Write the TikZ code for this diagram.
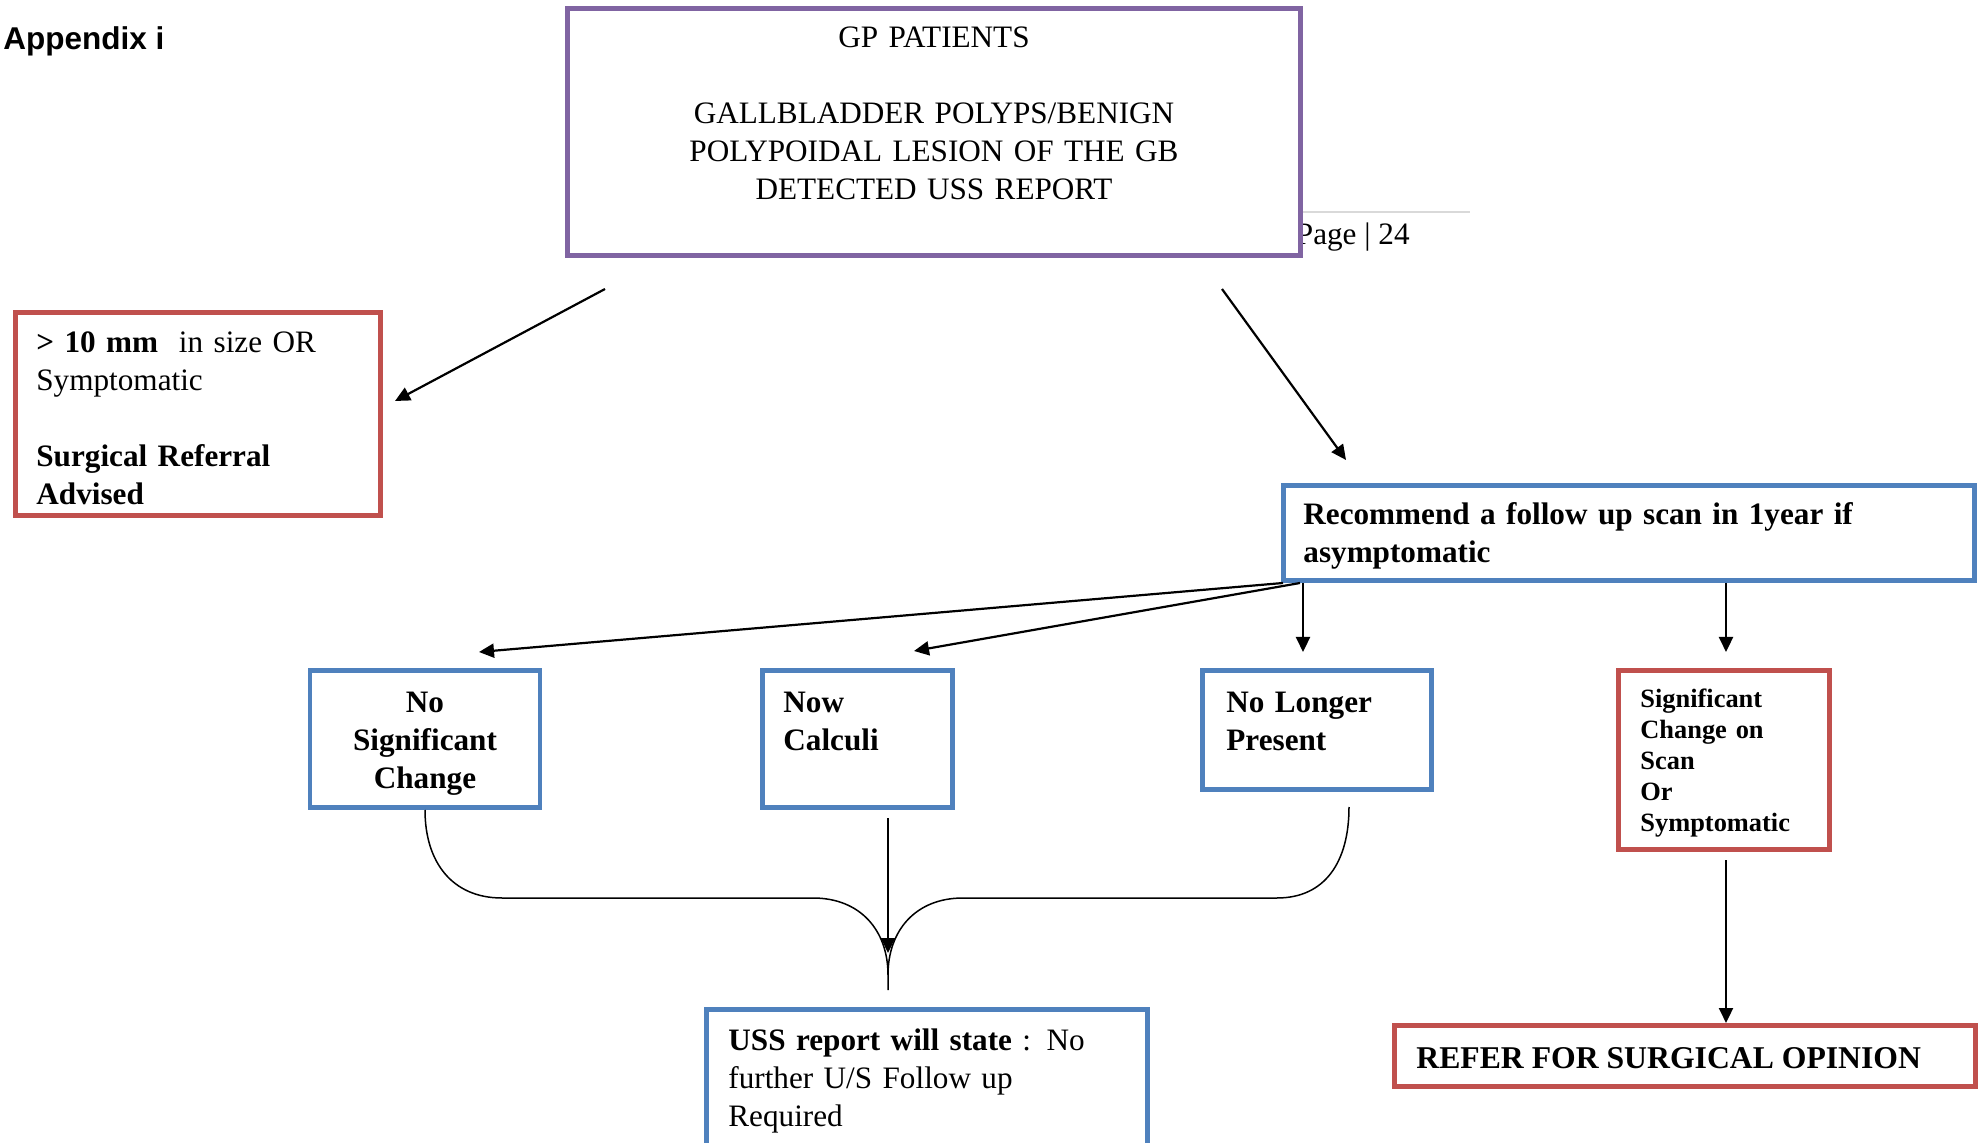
\documentclass[tikz,border=0pt]{standalone}
\usepackage{fontspec}
\setmainfont{Liberation Serif}
\newfontfamily\arialfont{Liberation Sans}
\usetikzlibrary{arrows.meta}
\definecolor{gpPurple}{HTML}{8064A2}
\definecolor{gpRed}{HTML}{C0504D}
\definecolor{gpBlue}{HTML}{4F81BD}
\definecolor{gpGray}{HTML}{D9D9D9}
\begin{document}
\begin{tikzpicture}[x=0.5pt,y=-0.5pt,
  boxbase/.style={rectangle, inner sep=0pt, line width=2.4pt, fill=white},
  purplebox/.style={boxbase, draw=gpPurple},
  redbox/.style={boxbase, draw=gpRed},
  bluebox/.style={boxbase, draw=gpBlue},
  txt/.style={inner sep=0pt, font=\fontsize{15.6}{19}\selectfont, align=left},
  btxt/.style={txt, font=\fontsize{15.6}{19}\selectfont\bfseries},
  stxt/.style={txt, font=\fontsize{13.2}{15.4}\selectfont\bfseries},
  arr/.style={line width=1.1pt, -{Triangle[length=7.5pt,width=7pt]}},
  bracestyle/.style={line width=0.75pt},
]
\useasboundingbox (0,0) rectangle (1986,1143);
\clip (0,0) rectangle (1986,1143);

% page footer remnant
\coordinate (pl1) at (1250,212);
\coordinate (pl2) at (1470,212);
\draw[gpGray, line width=1pt] (pl1) -- (pl2);
\node[txt, anchor=base east] (page) at (1410,245) {Page | 24};

\node[inner sep=0pt, anchor=base west, font=\arialfont\bfseries\fontsize{15.75}{19}\selectfont] (app) at (3,50) {Appendix i};

% boxes
\node[purplebox, minimum width=366.5pt, minimum height=123.5pt] (gp) at (934,132) {};
\node[txt, align=center, text width=260pt, anchor=base] (gpt) at (934,48)
  {GP PATIENTS\\[19pt]GALLBLADDER POLYPS/BENIGN\\POLYPOIDAL LESION OF THE GB\\DETECTED USS REPORT};

\node[redbox, minimum width=182.5pt, minimum height=101.5pt] (big) at (198,414) {};
\node[txt, text width=175pt, anchor=base west] (bigt) at (36,353)
  {\textbf{> 10 mm}\ \ in size OR\\Symptomatic\\[19pt]\textbf{Surgical Referral}\\\textbf{Advised}};

\node[bluebox, minimum width=345.5pt, minimum height=47.5pt] (rec) at (1629,533) {};
\node[btxt, text width=335pt, anchor=base west] (rect) at (1303,525)
  {Recommend a follow up scan in 1year if\\asymptomatic};

\node[bluebox, minimum width=115pt, minimum height=68.5pt] (nsc) at (425,739) {};
\node[btxt, align=center, text width=110pt, anchor=base] (nsct) at (425,712)
  {No\\Significant\\Change};

\node[bluebox, minimum width=95pt, minimum height=68.5pt] (nc) at (857.5,739) {};
\node[btxt, text width=85pt, anchor=base west] (nct) at (783,712) {Now\\Calculi};

\node[bluebox, minimum width=114.5pt, minimum height=59.5pt] (nlp) at (1317,730) {};
\node[btxt, text width=105pt, anchor=base west] (nlpt) at (1226,712) {No Longer\\Present};

\node[redbox, minimum width=105.5pt, minimum height=89.5pt] (sig) at (1724,760) {};
\node[stxt, text width=95pt, anchor=base west] (sigt) at (1640,708)
  {Significant\\Change on\\Scan\\Or\\Symptomatic};

\node[redbox, minimum width=290.5pt, minimum height=30.5pt] (refer) at (1685,1056) {};
\node[btxt, anchor=base west, font=\fontsize{15.85}{19}\selectfont\bfseries] (refert) at (1416,1068) {REFER FOR SURGICAL OPINION};

\node[bluebox, minimum width=220.5pt, minimum height=120.5pt] (uss) at (927,1130) {};
\node[txt, text width=210pt, anchor=base west] (usst) at (728,1050)
  {\textbf{USS report will state} : No\\further U/S Follow up\\Required};

% connectors
\coordinate (a1s) at (605,289);  \coordinate (a1e) at (395,401);
\coordinate (a2s) at (1222,289); \coordinate (a2e) at (1346,460);
\coordinate (a3s) at (1283,583); \coordinate (a3e) at (479,652);
\coordinate (a4s) at (1300,583); \coordinate (a4e) at (914,651);
\coordinate (a5s) at (1303,583); \coordinate (a5e) at (1303,652);
\coordinate (a6s) at (1726,583); \coordinate (a6e) at (1726,652);
\coordinate (a7s) at (1726,860); \coordinate (a7e) at (1726,1023);
\coordinate (a8s) at (888,818);  \coordinate (a8e) at (888,953);
\draw[arr] (a1s) -- (a1e);
\draw[arr] (a2s) -- (a2e);
\draw[arr] (a3s) -- (a3e);
\draw[arr] (a4s) -- (a4e);
\draw[arr] (a5s) -- (a5e);
\draw[arr] (a6s) -- (a6e);
\draw[arr] (a7s) -- (a7e);
\draw[arr] (a8s) -- (a8e);

% brace joining the three outcomes
\coordinate (bl) at (425,810);
\coordinate (br) at (1349,807);
\coordinate (bm) at (888,975);
\coordinate (btip) at (888,990);
\draw[bracestyle] (bl) .. controls (425,862) and (452,898) .. (502,898) -- (813,898)
  .. controls (860,898) and (888,930) .. (bm) -- (btip);
\draw[bracestyle] (bm) .. controls (888,930) and (916,898) .. (963,898) -- (1277,898)
  .. controls (1325,898) and (1349,862) .. (br);
\end{tikzpicture}
\end{document}
